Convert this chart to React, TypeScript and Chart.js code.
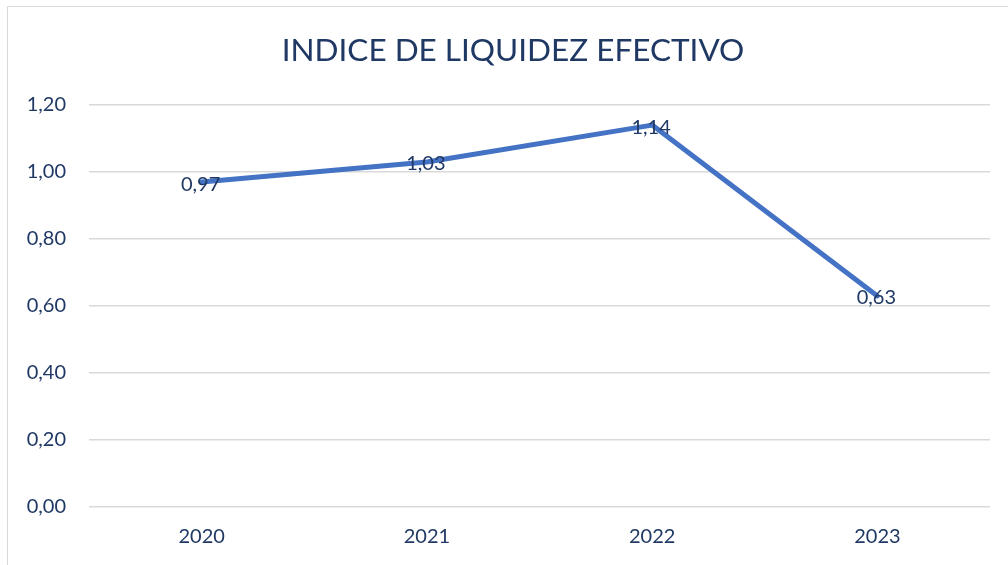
import React, { useEffect, useRef } from "react";
import { Chart, registerables } from "chart.js";

Chart.register(...registerables);

const title = "INDICE DE LIQUIDEZ EFECTIVO";
const years = ["2020", "2021", "2022", "2023"];
const values = [0.97, 1.03, 1.14, 0.63];
const yMin = 0;
const yMax = 1.2;
const yStep = 0.2;

const NAVY = "#1F3864";
const FONT = "Lato, 'Open Sans', sans-serif";

const fmt = (v: number) => v.toFixed(2).replace(".", ",");

export default function App() {
  const ref = useRef<HTMLCanvasElement>(null);

  useEffect(() => {
    if (!ref.current) return;
    const titlePlugin = {
      id: "customTitle",
      afterDraw(chart: any) {
        const ctx = chart.ctx;
        ctx.save();
        ctx.fillStyle = NAVY;
        ctx.font = `31.5px ${FONT}`;
        ctx.textAlign = "center";
        ctx.textBaseline = "middle";
        ctx.fillText(title, 513, 51);
        ctx.restore();
      },
    };
    const labelPlugin = {
      id: "pointLabels",
      afterDatasetsDraw(chart: any) {
        const ctx = chart.ctx;
        const meta = chart.getDatasetMeta(0);
        ctx.save();
        ctx.fillStyle = NAVY;
        ctx.font = `20px ${FONT}`;
        ctx.textAlign = "center";
        ctx.textBaseline = "middle";
        meta.data.forEach((pt: any, i: number) => {
          ctx.fillText(fmt(values[i]), pt.x - 1, pt.y + 2);
        });
        ctx.restore();
      },
    };
    const chart = new Chart(ref.current, {
      type: "line",
      data: {
        labels: years,
        datasets: [
          {
            data: values,
            borderColor: "#4472C4",
            backgroundColor: "#4472C4",
            borderWidth: 5,
            pointRadius: 0,
            tension: 0,
            borderCapStyle: "round",
            borderJoinStyle: "round",
          },
        ],
      },
      options: {
        animation: false,
        responsive: false,
        maintainAspectRatio: false,
        layout: { padding: { top: 105, right: 18, left: 0, bottom: 0 } },
        plugins: {
          legend: { display: false },
          title: { display: false },
          tooltip: { enabled: false },
        },
        scales: {
          x: {
            offset: true,
            grid: { display: false, drawTicks: false },
            border: { display: false },
            ticks: {
              color: NAVY,
              font: { family: FONT, size: 20 },
              padding: 18,
            },
            afterFit: (s: any) => {
              s.height = 58;
            },
          },
          y: {
            min: yMin,
            max: yMax,
            grid: { color: "#d9d9d9", lineWidth: 1.5, drawTicks: false },
            border: { display: false },
            ticks: {
              stepSize: yStep,
              color: NAVY,
              font: { family: FONT, size: 20 },
              padding: 23,
              callback: (v: any) => fmt(Number(v)),
            },
            afterFit: (s: any) => {
              s.width = 89;
            },
          },
        },
      },
      plugins: [titlePlugin, labelPlugin],
    });
    return () => chart.destroy();
  }, []);

  return (
    <div
      style={{
        position: "fixed",
        left: 0,
        top: 0,
        width: 1008,
        height: 565,
        overflow: "hidden",
        background: "#fff",
      }}
    >
      <div
        style={{
          position: "absolute",
          left: 7,
          top: 6,
          width: 1100,
          height: 700,
          border: "1.5px solid #d9d9d9",
          boxSizing: "border-box",
        }}
      />
      <canvas
        ref={ref}
        width={1008}
        height={565}
        style={{ position: "absolute", left: 0, top: 0 }}
      />
    </div>
  );
}
